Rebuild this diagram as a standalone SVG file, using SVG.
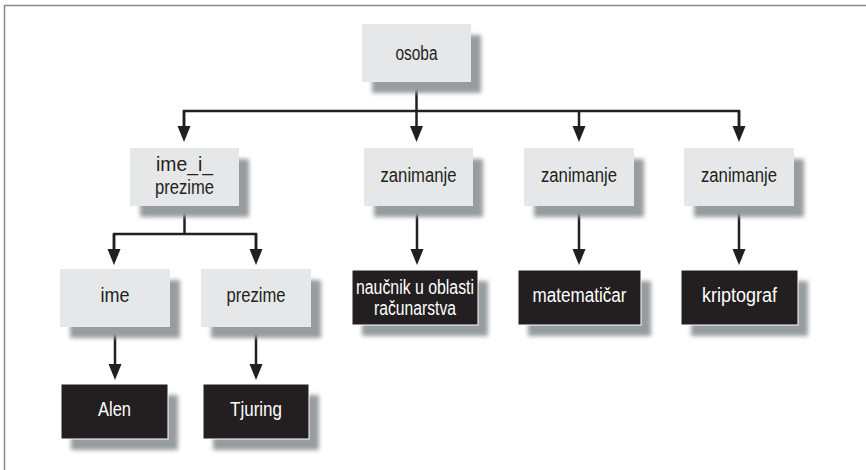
<svg xmlns="http://www.w3.org/2000/svg" width="866" height="470" viewBox="0 0 866 470">
  <defs>
    <filter id="blur" x="-20%" y="-20%" width="140%" height="140%">
      <feGaussianBlur stdDeviation="2.2"/>
    </filter>
    <marker id="arr" markerUnits="userSpaceOnUse" markerWidth="16" markerHeight="14" refX="0" refY="6.5" orient="auto" overflow="visible">
      <path d="M0,0 L16,6.5 L0,13 Z" fill="#231f20"/>
    </marker>
  </defs>
  <style>
    .sh { fill: #979c9e; filter: url(#blur); }
    .lt { fill: #e6e7e8; }
    .dk { fill: #231f20; stroke: #ffffff; stroke-width: 1; }
    text { font-family: "Liberation Sans", Arial, sans-serif; font-size: 19.5px; text-anchor: middle; }
    .tl { fill: #231f20; }
    .td { fill: #ffffff; }
    .c { fill: none; stroke: #231f20; stroke-width: 2.5; }
    .a { marker-end: url(#arr); }
  </style>
  <rect x="0" y="0" width="866" height="470" fill="#ffffff"/>
  <path d="M4.5,470 V5.5 H866" fill="none" stroke="#8a8a8a" stroke-width="1.5"/>

  <g id="connectors">
    <path class="c" d="M416.5,82 V111"/>
    <path class="c" d="M184,126 V111 H739 V126"/>
    <path class="c a" d="M184,111 V126"/>
    <path class="c a" d="M416.5,111 V126"/>
    <path class="c a" d="M579,111 V126"/>
    <path class="c a" d="M739,111 V126"/>
    <path class="c" d="M184.5,206 V234"/>
    <path class="c" d="M114,249 V234 H256 V249"/>
    <path class="c a" d="M114,234 V249"/>
    <path class="c a" d="M256,234 V249"/>
    <path class="c a" d="M417,206 V249"/>
    <path class="c a" d="M579,206 V249"/>
    <path class="c a" d="M739,206 V249"/>
    <path class="c a" d="M115,327 V364"/>
    <path class="c a" d="M256,327 V364"/>
  </g>

  <g id="osoba">
    <rect class="sh" x="372" y="35" width="109" height="58"/>
    <rect class="lt" x="362" y="24" width="109" height="58"/>
    <text class="tl" x="416.5" y="60" textLength="42" lengthAdjust="spacingAndGlyphs">osoba</text>
  </g>
  <g id="ime_i_prezime">
    <rect class="sh" x="140" y="159" width="109" height="58"/>
    <rect class="lt" x="130" y="148" width="109" height="58"/>
    <text class="tl" x="184.5" y="171" textLength="57" lengthAdjust="spacingAndGlyphs">ime_i_</text>
    <text class="tl" x="184.5" y="194" textLength="59" lengthAdjust="spacingAndGlyphs">prezime</text>
  </g>
  <g id="zanimanje1">
    <rect class="sh" x="374" y="159" width="109" height="58"/>
    <rect class="lt" x="364" y="148" width="109" height="58"/>
    <text class="tl" x="418.5" y="182" textLength="76" lengthAdjust="spacingAndGlyphs">zanimanje</text>
  </g>
  <g id="zanimanje2">
    <rect class="sh" x="534" y="159" width="110" height="58"/>
    <rect class="lt" x="524" y="148" width="110" height="58"/>
    <text class="tl" x="579" y="182" textLength="76" lengthAdjust="spacingAndGlyphs">zanimanje</text>
  </g>
  <g id="zanimanje3">
    <rect class="sh" x="694" y="159" width="110" height="58"/>
    <rect class="lt" x="684" y="148" width="110" height="58"/>
    <text class="tl" x="739" y="182" textLength="76" lengthAdjust="spacingAndGlyphs">zanimanje</text>
  </g>
  <g id="ime">
    <rect class="sh" x="70" y="280" width="110" height="58"/>
    <rect class="lt" x="60" y="269" width="110" height="58"/>
    <text class="tl" x="115" y="302" textLength="29" lengthAdjust="spacingAndGlyphs">ime</text>
  </g>
  <g id="prezime">
    <rect class="sh" x="211" y="280" width="110" height="58"/>
    <rect class="lt" x="201" y="269" width="110" height="58"/>
    <text class="tl" x="256" y="302" textLength="59" lengthAdjust="spacingAndGlyphs">prezime</text>
  </g>
  <g id="naucnik">
    <rect class="sh" x="362" y="281" width="126" height="55"/>
    <rect class="dk" x="352" y="270" width="126" height="55"/>
    <text class="td" x="415" y="294" textLength="118" lengthAdjust="spacingAndGlyphs">naučnik u oblasti</text>
    <text class="td" x="415" y="315" textLength="82" lengthAdjust="spacingAndGlyphs">računarstva</text>
  </g>
  <g id="matematicar">
    <rect class="sh" x="528" y="281" width="123" height="55"/>
    <rect class="dk" x="518" y="270" width="123" height="55"/>
    <text class="td" x="579.5" y="302" textLength="94" lengthAdjust="spacingAndGlyphs">matematičar</text>
  </g>
  <g id="kriptograf">
    <rect class="sh" x="691" y="281" width="117" height="55"/>
    <rect class="dk" x="681" y="270" width="117" height="55"/>
    <text class="td" x="739.5" y="302" textLength="75" lengthAdjust="spacingAndGlyphs">kriptograf</text>
  </g>
  <g id="alen">
    <rect class="sh" x="71" y="395" width="107" height="55"/>
    <rect class="dk" x="61" y="384" width="107" height="55"/>
    <text class="td" x="114.5" y="416" textLength="33" lengthAdjust="spacingAndGlyphs">Alen</text>
  </g>
  <g id="tjuring">
    <rect class="sh" x="213" y="395" width="106" height="55"/>
    <rect class="dk" x="203" y="384" width="106" height="55"/>
    <text class="td" x="256" y="416" textLength="52" lengthAdjust="spacingAndGlyphs">Tjuring</text>
  </g>
</svg>
